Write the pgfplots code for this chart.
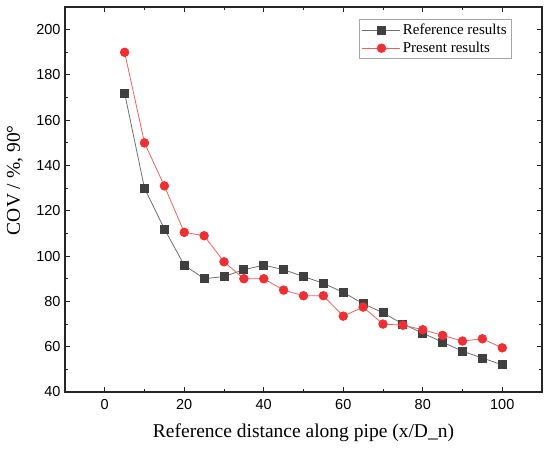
\documentclass[border=0pt]{standalone}
\usepackage{pgfplots}
\pgfplotsset{compat=1.18}
\usepackage{fontspec}
\setmainfont{Liberation Serif}
\newfontfamily\arial{Liberation Sans}
\definecolor{sqc}{HTML}{404040}
\definecolor{sql}{HTML}{707070}
\definecolor{cic}{HTML}{EE3035}
\definecolor{cil}{HTML}{F06060}
\begin{document}
\begin{tikzpicture}
\useasboundingbox (-65bp,-61bp) rectangle (485bp,392bp);
\begin{axis}[
  scale only axis,
  width=477bp, height=385bp,
  xmin=-10, xmax=110, ymin=40, ymax=210,
  xtick={0,20,...,100}, ytick={40,60,...,200},
  minor x tick num=1, minor y tick num=1,
  tick align=inside,
  major tick length=5bp, minor tick length=3bp,
  axis line style={line width=1.3bp, black!85},
  every tick/.style={black!85, line width=0.9bp},
  tick label style={font=\arial\fontsize{14.5bp}{16bp}\selectfont},
  xticklabel style={yshift=-4bp},
  yticklabel style={xshift=-1bp},
  /pgf/number format/assume math mode=true,
  xlabel={Reference distance along pipe (x/D\_n)},
  ylabel={COV / \%, 90°},
  label style={font=\fontsize{19.5bp}{21bp}\selectfont},
  xlabel style={at={(axis description cs:0.5,0)}, anchor=center, yshift=-41bp},
  ylabel style={at={(axis description cs:0,0.55)}, anchor=center, yshift=50bp},
  legend style={at={(0.936,0.968)}, anchor=north east, draw=black!35, line width=0.8bp,
    font=\fontsize{15bp}{17bp}\selectfont, inner sep=2.5bp, row sep=2bp},
  legend cell align=left,
  legend image code/.code={%
    \draw[#1, mark=none] (0bp,0bp) -- (38bp,0bp);
    \draw[#1, only marks] plot coordinates {(19bp,0bp)};},
]
\addplot[sql, line width=0.8bp, mark=square*, mark size=4bp, mark options={fill=sqc, draw=sqc}] coordinates {
(5,172) (10,130) (15,112) (20,96) (25,90) (30,91) (35,94) (40,96) (45,94) (50,91)
(55,88) (60,84) (65,79) (70,75) (75,70) (80,66) (85,62) (90,58) (95,55) (100,52)};
\addlegendentry{Reference results}
\addplot[cil, line width=0.8bp, mark=*, mark size=4.3bp, mark options={fill=cic, draw=cic}] coordinates {
(5,190) (10,150) (15,131) (20,110.5) (25,109) (30,97.5) (35,90) (40,90) (45,85) (50,82.5)
(55,82.5) (60,73.5) (65,77.5) (70,70) (75,69.5) (80,67.5) (85,65) (90,62.5) (95,63.5) (100,59.5)};
\addlegendentry{Present results}
\end{axis}
\end{tikzpicture}
\end{document}
